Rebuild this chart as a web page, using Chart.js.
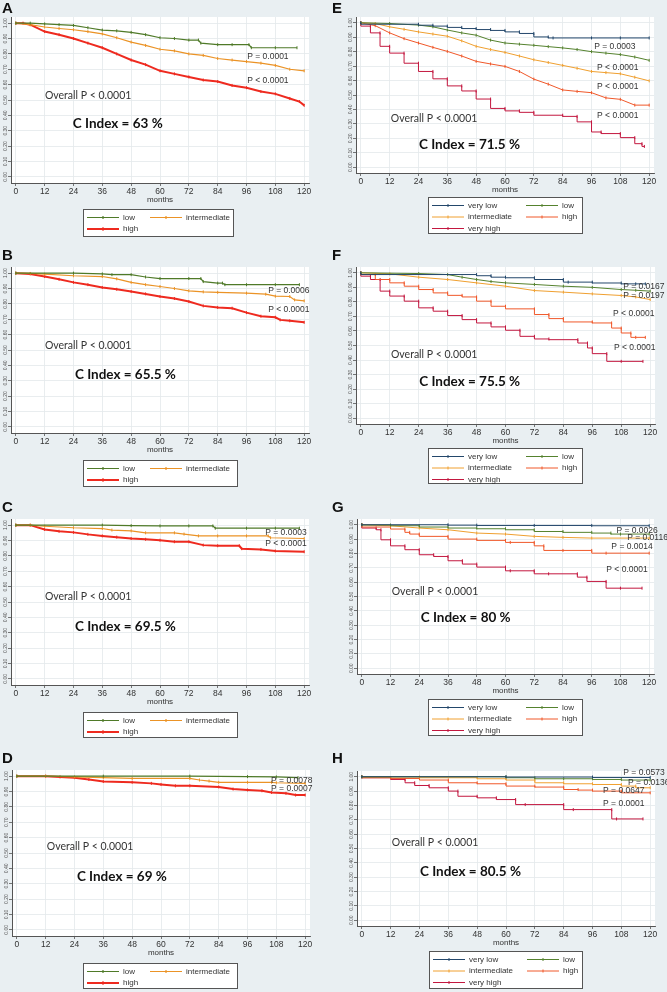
<!DOCTYPE html>
<html>
<head>
<meta charset="utf-8">
<script src="https://cdn.jsdelivr.net/npm/chart.js@4.4.1/dist/chart.umd.min.js"></script>
<style>
  html, body { margin: 0; padding: 0; background: #e9eff2; }
  #fig { position: relative; width: 667px; height: 992px; background: #e9eff2; overflow: hidden; }
  #fig canvas { position: absolute; }
</style>
</head>
<body>
<div id="fig"></div>
<script>
// axis ticks
const monthTicks = [0, 12, 24, 36, 48, 60, 72, 84, 96, 108, 120];
const survTicks = [0, 0.1, 0.2, 0.3, 0.4, 0.5, 0.6, 0.7, 0.8, 0.9, 1.0];

// A
const aT_low = [0, 6, 12, 18, 24, 30, 36, 42, 48, 54, 60, 66, 72, 76, 77, 84, 90, 97, 98, 108, 117];
const aS_low = [1, 1, 0.995, 0.99, 0.985, 0.97, 0.955, 0.95, 0.94, 0.925, 0.905, 0.9, 0.89, 0.89, 0.87, 0.86, 0.86, 0.86, 0.84, 0.84, 0.84];
const aT_int = [0, 6, 12, 18, 24, 30, 36, 42, 48, 54, 60, 66, 72, 78, 84, 90, 96, 102, 108, 114, 120];
const aS_int = [1, 0.99, 0.975, 0.965, 0.957, 0.945, 0.93, 0.905, 0.877, 0.855, 0.83, 0.82, 0.8, 0.79, 0.77, 0.76, 0.75, 0.74, 0.725, 0.7, 0.69];
const aT_high = [0, 3, 6, 12, 18, 24, 30, 36, 42, 48, 54, 60, 66, 72, 78, 84, 90, 96, 102, 108, 114, 118, 120];
const aS_high = [1, 1, 0.99, 0.945, 0.925, 0.9, 0.87, 0.84, 0.8, 0.76, 0.73, 0.69, 0.67, 0.65, 0.63, 0.62, 0.595, 0.58, 0.555, 0.54, 0.51, 0.49, 0.465];

// B
const bT_low = [0, 24, 36, 40, 48, 54, 60, 72, 77, 78, 84, 86, 87, 96, 108, 118];
const bS_low = [1, 1, 0.995, 0.99, 0.99, 0.975, 0.965, 0.965, 0.965, 0.945, 0.935, 0.935, 0.925, 0.925, 0.925, 0.925];
const bT_int = [0, 6, 12, 24, 36, 42, 48, 54, 60, 66, 72, 78, 84, 96, 104, 108, 114, 116, 120];
const bS_int = [1, 0.998, 0.993, 0.983, 0.978, 0.963, 0.94, 0.925, 0.913, 0.9, 0.885, 0.878, 0.875, 0.87, 0.863, 0.85, 0.848, 0.826, 0.82];
const bT_high = [0, 6, 12, 18, 24, 30, 36, 42, 48, 54, 60, 66, 72, 78, 84, 90, 96, 102, 108, 110, 114, 120];
const bS_high = [1, 0.995, 0.978, 0.96, 0.94, 0.925, 0.907, 0.895, 0.88, 0.865, 0.848, 0.835, 0.815, 0.787, 0.777, 0.772, 0.743, 0.72, 0.713, 0.696, 0.69, 0.68];

// C
const cT_low = [0, 36, 48, 60, 72, 82, 83, 96, 108, 118];
const cS_low = [1, 1, 0.997, 0.995, 0.995, 0.995, 0.98, 0.98, 0.98, 0.98];
const cT_int = [0, 6, 12, 24, 36, 40, 48, 54, 66, 70, 76, 84, 96, 105, 106, 120];
const cS_int = [1, 1, 0.993, 0.983, 0.978, 0.968, 0.963, 0.95, 0.95, 0.942, 0.93, 0.93, 0.93, 0.93, 0.918, 0.913];
const cT_high = [0, 6, 12, 18, 24, 30, 36, 42, 48, 54, 60, 66, 72, 78, 84, 93, 94, 102, 108, 120];
const cS_high = [1, 1, 0.972, 0.96, 0.953, 0.94, 0.93, 0.922, 0.913, 0.908, 0.902, 0.892, 0.892, 0.87, 0.866, 0.866, 0.847, 0.842, 0.832, 0.827];

// D
const dT_low = [0, 36, 72, 96, 108, 117];
const dS_low = [1, 1, 1, 0.997, 0.995, 0.99];
const dT_int = [0, 12, 24, 36, 48, 72, 76, 80, 84, 96, 106, 108, 120];
const dS_int = [1, 1, 0.995, 0.99, 0.985, 0.985, 0.975, 0.968, 0.96, 0.96, 0.96, 0.957, 0.953];
const dT_high = [0, 12, 18, 24, 30, 36, 48, 56, 60, 66, 72, 84, 90, 96, 102, 106, 112, 116, 120];
const dS_high = [1, 1, 0.995, 0.99, 0.978, 0.965, 0.96, 0.953, 0.946, 0.937, 0.937, 0.93, 0.916, 0.91, 0.905, 0.894, 0.888, 0.877, 0.877];

// E
const eT_vlow = [0, 24, 30, 36, 42, 48, 54, 60, 66, 72, 78, 80, 96, 108, 120];
const eS_vlow = [1, 0.99, 0.983, 0.977, 0.968, 0.96, 0.953, 0.947, 0.937, 0.926, 0.902, 0.895, 0.895, 0.895, 0.895];
const eT_low = [0, 12, 24, 30, 36, 42, 48, 54, 60, 66, 72, 78, 84, 90, 96, 102, 108, 114, 120];
const eS_low = [1, 0.995, 0.984, 0.972, 0.95, 0.93, 0.914, 0.88, 0.86, 0.852, 0.844, 0.835, 0.826, 0.815, 0.8, 0.79, 0.78, 0.763, 0.74];
const eT_int = [0, 6, 12, 18, 24, 30, 36, 42, 48, 54, 60, 66, 72, 78, 84, 90, 96, 102, 108, 114, 120];
const eS_int = [1, 0.995, 0.972, 0.955, 0.937, 0.922, 0.907, 0.875, 0.837, 0.815, 0.795, 0.77, 0.744, 0.725, 0.705, 0.685, 0.663, 0.655, 0.647, 0.623, 0.598];
const eT_high = [0, 6, 12, 18, 24, 30, 36, 42, 48, 54, 60, 66, 72, 78, 84, 90, 96, 102, 108, 114, 120];
const eS_high = [1, 0.98, 0.93, 0.89, 0.86, 0.83, 0.802, 0.77, 0.733, 0.715, 0.698, 0.663, 0.61, 0.575, 0.535, 0.525, 0.516, 0.48, 0.47, 0.43, 0.43];
const eT_vhigh = [0, 4, 8, 12, 18, 24, 30, 36, 42, 48, 54, 60, 66, 72, 84, 90, 96, 100, 108, 114, 117, 118];
const eS_vhigh = [1, 0.977, 0.93, 0.837, 0.79, 0.72, 0.663, 0.612, 0.563, 0.528, 0.472, 0.407, 0.39, 0.38, 0.36, 0.352, 0.314, 0.244, 0.233, 0.205, 0.163, 0.144];

// F
const fT_vlow = [0, 48, 54, 60, 72, 84, 86, 96, 108, 114, 118];
const fS_vlow = [1, 0.988, 0.98, 0.97, 0.966, 0.954, 0.936, 0.936, 0.93, 0.924, 0.924];
const fT_low = [0, 24, 36, 42, 48, 54, 60, 72, 84, 96, 108, 114, 120];
const fS_low = [1, 0.995, 0.988, 0.97, 0.954, 0.94, 0.931, 0.92, 0.908, 0.9, 0.885, 0.88, 0.874];
const fT_int = [0, 12, 24, 36, 48, 60, 72, 84, 96, 108, 114, 120];
const fS_int = [1, 0.993, 0.97, 0.954, 0.931, 0.908, 0.878, 0.867, 0.855, 0.844, 0.834, 0.816];
const fT_high = [0, 6, 12, 18, 24, 30, 36, 42, 48, 54, 60, 72, 78, 84, 96, 104, 108, 112, 114, 118];
const fS_high = [1, 0.988, 0.954, 0.931, 0.908, 0.885, 0.862, 0.845, 0.834, 0.805, 0.77, 0.752, 0.713, 0.685, 0.662, 0.655, 0.62, 0.586, 0.556, 0.556];
const fT_vhigh = [0, 4, 8, 12, 18, 24, 30, 36, 42, 48, 54, 60, 66, 72, 78, 90, 94, 96, 102, 108, 117];
const fS_vhigh = [1, 0.977, 0.954, 0.874, 0.84, 0.805, 0.759, 0.736, 0.706, 0.678, 0.655, 0.628, 0.605, 0.563, 0.545, 0.54, 0.517, 0.483, 0.444, 0.391, 0.391];

// G
const gT_vlow = [0, 36, 48, 72, 96, 120];
const gS_vlow = [1, 1, 0.997, 0.995, 0.995, 0.993];
const gT_low = [0, 12, 24, 36, 48, 60, 72, 84, 96, 104, 108, 120];
const gS_low = [1, 0.998, 0.993, 0.984, 0.977, 0.972, 0.965, 0.953, 0.947, 0.942, 0.935, 0.935];
const gT_int = [0, 12, 24, 36, 48, 60, 72, 84, 96, 120];
const gS_int = [1, 0.993, 0.977, 0.965, 0.942, 0.935, 0.919, 0.912, 0.907, 0.907];
const gT_high = [0, 12, 18, 20, 24, 36, 48, 60, 62, 72, 76, 84, 96, 102, 120];
const gS_high = [1, 0.984, 0.97, 0.947, 0.935, 0.919, 0.9, 0.891, 0.877, 0.877, 0.853, 0.821, 0.821, 0.802, 0.802];
const gT_vhigh = [0, 6, 8, 12, 18, 24, 30, 36, 42, 48, 60, 62, 72, 78, 90, 94, 102, 108, 117];
const gS_vhigh = [1, 0.977, 0.965, 0.895, 0.853, 0.826, 0.791, 0.779, 0.749, 0.726, 0.705, 0.679, 0.679, 0.658, 0.658, 0.635, 0.605, 0.558, 0.558];

// H
const hT_vlow = [0, 60, 96, 120];
const hS_vlow = [1, 1, 0.998, 0.995];
const hT_low = [0, 60, 72, 84, 96, 108, 120];
const hS_low = [1, 1, 0.993, 0.986, 0.986, 0.981, 0.977];
const hT_int = [0, 24, 48, 60, 72, 84, 96, 108, 114, 120];
const hS_int = [1, 0.998, 0.993, 0.986, 0.977, 0.958, 0.951, 0.946, 0.935, 0.923];
const hT_high = [0, 12, 24, 36, 48, 60, 72, 84, 90, 96, 108, 120];
const hS_high = [1, 0.993, 0.988, 0.977, 0.958, 0.951, 0.935, 0.928, 0.911, 0.907, 0.9, 0.888];
const hT_vhigh = [0, 12, 18, 22, 28, 36, 40, 48, 56, 64, 68, 84, 88, 104, 106, 117];
const hS_vhigh = [1, 0.993, 0.981, 0.958, 0.939, 0.923, 0.9, 0.864, 0.853, 0.841, 0.806, 0.806, 0.771, 0.771, 0.706, 0.706];

const COL = {
  vlow: "#23476b",
  low3: "#4f7a28",
  int3: "#eb9326",
  high3: "#ee2a1f",
  low5: "#55822e",
  int5: "#f0a030",
  high5: "#f0582a",
  vhigh: "#c3173f",
};

function three(tl, sl, ti, si, th, sh) {
  return [
    { label: "low", t: tl, s: sl, color: COL.low3, w: 1.2, step: false },
    { label: "intermediate", t: ti, s: si, color: COL.int3, w: 1.2, step: false },
    { label: "high", t: th, s: sh, color: COL.high3, w: 2, step: false },
  ];
}
function five(steps, t1, s1, t2, s2, t3, s3, t4, s4, t5, s5) {
  return [
    { label: "very low", t: t1, s: s1, color: COL.vlow, w: 1, step: steps[0] },
    { label: "low", t: t2, s: s2, color: COL.low5, w: 1, step: steps[1] },
    { label: "intermediate", t: t3, s: s3, color: COL.int5, w: 1, step: steps[2] },
    { label: "high", t: t4, s: s4, color: COL.high5, w: 1, step: steps[3] },
    { label: "very high", t: t5, s: s5, color: COL.vhigh, w: 1, step: steps[4] },
  ];
}

// panel frames (canvas box, plot area, legend box) and text notes
const panels = [
  { id: "A", left: 0, top: 0, w: 330, h: 245, letterY: 13, area: [11, 17, 309, 183], legend: [83, 209, 150, 27, 67],
    series: three(aT_low, aS_low, aT_int, aS_int, aT_high, aS_high), cindex: "63",
    pv: [[96.3, 0.78, "P = 0.0001"], [96.3, 0.623, "P < 0.0001"]], overall: [12.1, 0.526], ci: [23.7, 0.344] },
  { id: "B", left: 0, top: 245, w: 330, h: 245, letterY: 15, area: [11, 22, 309, 188], legend: [83, 215, 154, 26, 67],
    series: three(bT_low, bS_low, bT_int, bS_int, bT_high, bS_high), cindex: "65.5",
    pv: [[105, 0.883, "P = 0.0006"], [105, 0.76, "P < 0.0001"]], overall: [12.1, 0.526], ci: [24.6, 0.338] },
  { id: "C", left: 0, top: 490, w: 330, h: 250, letterY: 22, area: [11, 29, 309, 195], legend: [83, 222, 154, 25, 67],
    series: three(cT_low, cS_low, cT_int, cS_int, cT_high, cS_high), cindex: "69.5",
    pv: [[103.8, 0.948, "P = 0.0003"], [103.8, 0.877, "P < 0.0001"]], overall: [12.1, 0.532], ci: [24.6, 0.338] },
  { id: "D", left: 0, top: 740, w: 330, h: 252, letterY: 23, area: [12, 30, 310, 196], legend: [83, 223, 154, 25, 67],
    series: three(dT_low, dS_low, dT_int, dS_int, dT_high, dS_high), cindex: "69",
    pv: [[105.8, 0.968, "P = 0.0078"], [105.8, 0.916, "P = 0.0007"]], overall: [12.5, 0.539], ci: [25, 0.344] },
  { id: "E", left: 330, top: 0, w: 337, h: 245, letterY: 13, area: [26, 17, 324, 173], legend: [98, 197, 154, 36, 98],
    series: five([true, false, false, false, true], eT_vlow, eS_vlow, eT_low, eS_low, eT_int, eS_int, eT_high, eS_high, eT_vhigh, eS_vhigh), cindex: "71.5",
    pv: [[97.1, 0.833, "P = 0.0003"], [98.3, 0.688, "P < 0.0001"], [98.3, 0.556, "P < 0.0001"], [98.3, 0.354, "P < 0.0001"]],
    overall: [12.5, 0.34], ci: [24.2, 0.153] },
  { id: "F", left: 330, top: 245, w: 337, h: 245, letterY: 15, area: [26, 22, 325, 179], legend: [98, 203, 154, 35, 98],
    series: five([true, false, false, true, true], fT_vlow, fS_vlow, fT_low, fS_low, fT_int, fS_int, fT_high, fS_high, fT_vhigh, fS_vhigh), cindex: "75.5",
    pv: [[108.8, 0.903, "P = 0.0167"], [108.8, 0.841, "P = 0.0197"], [104.6, 0.717, "P < 0.0001"], [105, 0.483, "P < 0.0001"]],
    overall: [12.5, 0.434], ci: [24.2, 0.248] },
  { id: "G", left: 330, top: 490, w: 337, h: 250, letterY: 22, area: [27, 29, 324, 184], legend: [98, 209, 154, 36, 98],
    series: five([true, true, false, true, true], gT_vlow, gS_vlow, gT_low, gS_low, gT_int, gS_int, gT_high, gS_high, gT_vhigh, gS_vhigh), cindex: "80",
    pv: [[106.3, 0.958, "P = 0.0026"], [110.8, 0.909, "P = 0.0116"], [104.2, 0.846, "P = 0.0014"], [102.1, 0.685, "P < 0.0001"]],
    overall: [12.5, 0.531], ci: [24.6, 0.35] },
  { id: "H", left: 330, top: 740, w: 337, h: 252, letterY: 23, area: [27, 31, 325, 186], legend: [99, 211, 153, 37, 98],
    series: five([true, true, true, true, true], hT_vlow, hS_vlow, hT_low, hS_low, hT_int, hS_int, hT_high, hS_high, hT_vhigh, hS_vhigh), cindex: "80.5",
    pv: [[108.8, 1.028, "P = 0.0573"], [110.8, 0.958, "P = 0.0136"], [100.4, 0.902, "P = 0.0647"], [100.4, 0.811, "P = 0.0001"]],
    overall: [12.5, 0.538], ci: [24.2, 0.336] },
];

const AXIS_H = 22;

// white plot region
const plotBg = {
  id: "plotBg",
  beforeDraw(chart) {
    const { ctx, chartArea: a } = chart;
    ctx.save();
    ctx.fillStyle = "#ffffff";
    ctx.fillRect(a.left, a.top, a.right - a.left, a.bottom - a.top);
    ctx.restore();
  },
};

// panel letter, p values, c index and boxed legend
const panelText = {
  id: "panelText",
  afterDraw(chart, args, opts) {
    const p = opts.panel;
    const { ctx } = chart;
    const xs = chart.scales.x, ys = chart.scales.y;
    ctx.save();
    ctx.fillStyle = "#111";
    ctx.font = "bold 15px 'Liberation Sans', Arial, sans-serif";
    ctx.textBaseline = "alphabetic";
    ctx.textAlign = "left";
    ctx.fillText(p.id, 2, p.letterY);

    ctx.textBaseline = "middle";
    ctx.fillStyle = "#333";
    ctx.font = "8.5px 'Liberation Sans', Arial, sans-serif";
    p.pv.forEach(([m, v, txt]) => ctx.fillText(txt, xs.getPixelForValue(m), ys.getPixelForValue(v)));

    ctx.font = "10.5px Lato, 'Open Sans', sans-serif";
    ctx.fillText("Overall P < 0.0001", xs.getPixelForValue(p.overall[0]), ys.getPixelForValue(p.overall[1]));

    ctx.fillStyle = "#111";
    ctx.font = "bold 13.5px Lato, 'Open Sans', sans-serif";
    ctx.fillText("C Index = " + p.cindex + " %", xs.getPixelForValue(p.ci[0]), ys.getPixelForValue(p.ci[1]));

    // legend
    const [lx, ly, lw, lh, col2] = p.legend;
    ctx.fillStyle = "#ffffff";
    ctx.fillRect(lx, ly, lw, lh);
    ctx.strokeStyle = "#555";
    ctx.lineWidth = 1;
    ctx.strokeRect(lx + 0.5, ly + 0.5, lw, lh);
    ctx.font = "8px 'Liberation Sans', Arial, sans-serif";
    chart.data.datasets.forEach((ds, i) => {
      const cx = lx + 4 + (i % 2) * (col2 - 4);
      const cy = ly + 8.5 + Math.floor(i / 2) * 11.5;
      ctx.strokeStyle = ds.borderColor;
      ctx.lineWidth = ds.borderWidth;
      ctx.beginPath();
      ctx.moveTo(cx, cy);
      ctx.lineTo(cx + 32, cy);
      ctx.moveTo(cx + 16, cy - 1.5);
      ctx.lineTo(cx + 16, cy + 1.5);
      ctx.stroke();
      ctx.fillStyle = "#333";
      ctx.fillText(ds.label, cx + 36, cy);
    });
    ctx.restore();
  },
};

const fig = document.getElementById("fig");

panels.forEach((p) => {
  const cv = document.createElement("canvas");
  cv.width = p.w;
  cv.height = p.h;
  cv.style.left = p.left + "px";
  cv.style.top = p.top + "px";
  cv.style.width = p.w + "px";
  cv.style.height = p.h + "px";
  fig.appendChild(cv);

  const [al, at, ar, ab] = p.area;
  const datasets = p.series.map((s) => ({
    label: s.label,
    data: s.t.map((t, i) => ({ x: t, y: s.s[i] })),
    borderColor: s.color,
    backgroundColor: s.color,
    borderWidth: s.w,
    stepped: s.step ? "after" : false,
    tension: 0,
    fill: false,
    pointStyle: "line",
    rotation: 90,
    pointRadius: 1.5,
    pointBorderWidth: 1,
    pointBorderColor: s.color,
  }));

  new Chart(cv.getContext("2d"), {
    type: "line",
    data: { datasets },
    options: {
      responsive: false,
      animation: false,
      layout: { padding: { left: 0, top: at, right: p.w - ar, bottom: p.h - ab - AXIS_H } },
      plugins: {
        legend: { display: false },
        tooltip: { enabled: false },
        panelText: { panel: p },
      },
      scales: {
        x: {
          type: "linear",
          min: -2,
          max: 122,
          afterBuildTicks: (sc) => { sc.ticks = monthTicks.map((v) => ({ value: v })); },
          afterFit: (sc) => { sc.height = AXIS_H; },
          grid: { color: "#e3e8eb", lineWidth: 0.8, tickColor: "#555", tickLength: 3 },
          border: { color: "#555", width: 1 },
          ticks: {
            autoSkip: false, maxRotation: 0, padding: 1, color: "#333",
            font: { family: "'Liberation Sans', Arial, sans-serif", size: 8.5 },
          },
          title: {
            display: true, text: "months", color: "#333", padding: 0,
            font: { family: "'Liberation Sans', Arial, sans-serif", size: 8 },
          },
        },
        y: {
          min: -0.04,
          max: 1.04,
          afterBuildTicks: (sc) => { sc.ticks = survTicks.map((v) => ({ value: v })); },
          afterFit: (sc) => { sc.width = al; },
          grid: { color: "#e3e8eb", lineWidth: 0.8, tickColor: "#555", tickLength: 3 },
          border: { color: "#555", width: 1 },
          ticks: {
            minRotation: 90, maxRotation: 90, crossAlign: "center", padding: -2, color: "#555",
            font: { family: "'Liberation Sans', Arial, sans-serif", size: 5 },
            callback: (v) => Number(v).toFixed(2),
          },
        },
      },
    },
    plugins: [plotBg, panelText],
  });
});
</script>
</body>
</html>
